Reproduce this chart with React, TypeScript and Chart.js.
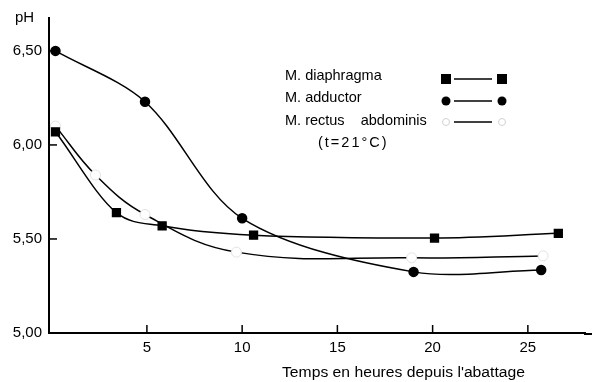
import React, { useEffect, useRef } from "react";
import { Chart, registerables } from "chart.js";

Chart.register(...registerables);

const diaphragmaHours = [0.2, 3.4, 5.8, 10.6, 20.1, 26.6];
const diaphragmaPH = [6.07, 5.64, 5.57, 5.52, 5.505, 5.53];
const adductorHours = [0.2, 4.9, 10.0, 19.0, 25.7];
const adductorPH = [6.5, 6.23, 5.61, 5.325, 5.335];
const rectusHours = [0.2, 2.3, 4.9, 9.7, 18.9, 25.8];
const rectusPH = [6.1, 5.84, 5.63, 5.43, 5.4, 5.41];

const xTicks = [5, 10, 15, 20, 25];
const yTicks = [5.0, 5.5, 6.0, 6.5];
const legendLabels = ["M. diaphragma", "M. adductor", "M. rectus    abdominis"];
const legendNote = "(t=21°C)";
const yTitle = "pH";
const xTitle = "Temps en heures depuis l'abattage";

const FONT = "'Liberation Sans', Arial, sans-serif";

const toPts = (xs: number[], ys: number[]) => xs.map((x, i) => ({ x, y: ys[i] }));

const decorPlugin = {
  id: "decor",
  afterDraw(chart: any) {
    const ctx = chart.ctx as CanvasRenderingContext2D;
    const xs = chart.scales.x;
    const ys = chart.scales.y;
    const area = chart.chartArea;
    ctx.save();
    ctx.strokeStyle = "#000";
    ctx.lineWidth = 2;
    ctx.beginPath();
    ctx.moveTo(area.right - 1, area.bottom + 1);
    ctx.lineTo(chart.width, area.bottom + 1);
    ctx.stroke();
    ctx.lineWidth = 1.5;
    xTicks.forEach((t) => {
      const px = xs.getPixelForValue(t);
      ctx.beginPath();
      ctx.moveTo(px, area.bottom);
      ctx.lineTo(px, area.bottom - 8);
      ctx.stroke();
    });
    yTicks.slice(1).forEach((t) => {
      const py = ys.getPixelForValue(t);
      ctx.beginPath();
      ctx.moveTo(area.left, py);
      ctx.lineTo(area.left + 8, py);
      ctx.stroke();
    });
    ctx.fillStyle = "#000";
    ctx.textBaseline = "middle";
    ctx.textAlign = "left";
    ctx.font = `15px ${FONT}`;
    ctx.fillText(yTitle, 15, 18);

    // x title
    ctx.save();
    ctx.font = `14px ${FONT}`;
    const w = ctx.measureText(xTitle).width;
    const target = 243;
    ctx.translate(282, 373);
    ctx.scale(target / w, 1);
    ctx.fillText(xTitle, 0, 0);
    ctx.restore();

    // legend
    const textRows = [76, 98, 121];
    const symRows = [79, 101, 122];
    ctx.font = `14.5px ${FONT}`;
    legendLabels.forEach((lab, i) => {
      const y = symRows[i];
      ctx.fillStyle = "#000";
      ctx.fillText(lab, 285, textRows[i]);
      ctx.beginPath();
      ctx.lineWidth = 1.5;
      ctx.strokeStyle = "#000";
      ctx.moveTo(454, y);
      ctx.lineTo(492, y);
      ctx.stroke();
      [446, 502].forEach((sx) => {
        if (i === 0) {
          ctx.fillRect(sx - 5, y - 5, 10, 10);
        } else if (i === 1) {
          ctx.beginPath();
          ctx.arc(sx, y, 4.5, 0, Math.PI * 2);
          ctx.fill();
        } else {
          ctx.beginPath();
          ctx.lineWidth = 1;
          ctx.strokeStyle = "#d0d0d0";
          ctx.arc(sx, y, 3.5, 0, Math.PI * 2);
          ctx.stroke();
        }
      });
    });
    ctx.fillStyle = "#000";
    ctx.font = `14.5px ${FONT}`;
    (ctx as any).letterSpacing = "2px";
    ctx.fillText(legendNote, 318, 143);
    ctx.restore();
  },
};

export default function App() {
  const ref = useRef<HTMLCanvasElement | null>(null);
  useEffect(() => {
    document.body.style.margin = "0";
    const canvas = ref.current!;
    const chart = new Chart(canvas, {
      type: "line",
      data: {
        datasets: [
          {
            label: legendLabels[2],
            data: toPts(rectusHours, rectusPH),
            borderColor: "#000",
            borderWidth: 1.5,
            backgroundColor: "#fff",
            pointBorderColor: "#e2e2e2",
            pointBorderWidth: 1,
            pointRadius: 5,
            pointStyle: "circle",
            tension: 0.4,
            order: 3,
          },
          {
            label: legendLabels[0],
            data: toPts(diaphragmaHours, diaphragmaPH),
            borderColor: "#000",
            borderWidth: 1.5,
            backgroundColor: "#000",
            pointBorderColor: "#000",
            pointRadius: 5.5,
            pointStyle: "rect",
            cubicInterpolationMode: "monotone",
            order: 2,
          },
          {
            label: legendLabels[1],
            data: toPts(adductorHours, adductorPH),
            borderColor: "#000",
            borderWidth: 1.5,
            backgroundColor: "#000",
            pointBorderColor: "#000",
            pointRadius: 4.5,
            pointStyle: "circle",
            tension: 0.32,
            order: 1,
          },
        ],
      },
      options: {
        animation: false,
        responsive: false,
        maintainAspectRatio: false,
        layout: { padding: { top: 18, right: 0, left: 0, bottom: 0 } },
        plugins: { legend: { display: false }, tooltip: { enabled: false } },
        scales: {
          x: {
            type: "linear",
            min: -0.14,
            max: 28.0,
            grid: { display: false, drawTicks: false },
            border: { display: true, color: "#000", width: 2 },
            afterBuildTicks: (s: any) => {
              s.ticks = xTicks.map((v) => ({ value: v }));
            },
            afterFit: (s: any) => {
              s.height = 49;
            },
            ticks: {
              color: "#000",
              font: { family: FONT, size: 15 },
              padding: 6,
              maxRotation: 0,
              callback: (v: any) => String(v),
            },
          },
          y: {
            type: "linear",
            min: 5.0,
            max: 6.675,
            grid: { display: false, drawTicks: false },
            border: { display: true, color: "#000", width: 2 },
            afterBuildTicks: (s: any) => {
              s.ticks = yTicks.map((v) => ({ value: v }));
            },
            afterFit: (s: any) => {
              s.width = 49;
            },
            ticks: {
              color: "#000",
              font: { family: FONT, size: 15 },
              padding: 7,
              callback: (v: any) => Number(v).toFixed(2).replace(".", ","),
            },
          },
        },
      },
      plugins: [decorPlugin],
    });
    return () => chart.destroy();
  }, []);
  return (
    <div style={{ width: 592, height: 382 }}>
      <canvas ref={ref} width={592} height={382} style={{ display: "block" }} />
    </div>
  );
}
